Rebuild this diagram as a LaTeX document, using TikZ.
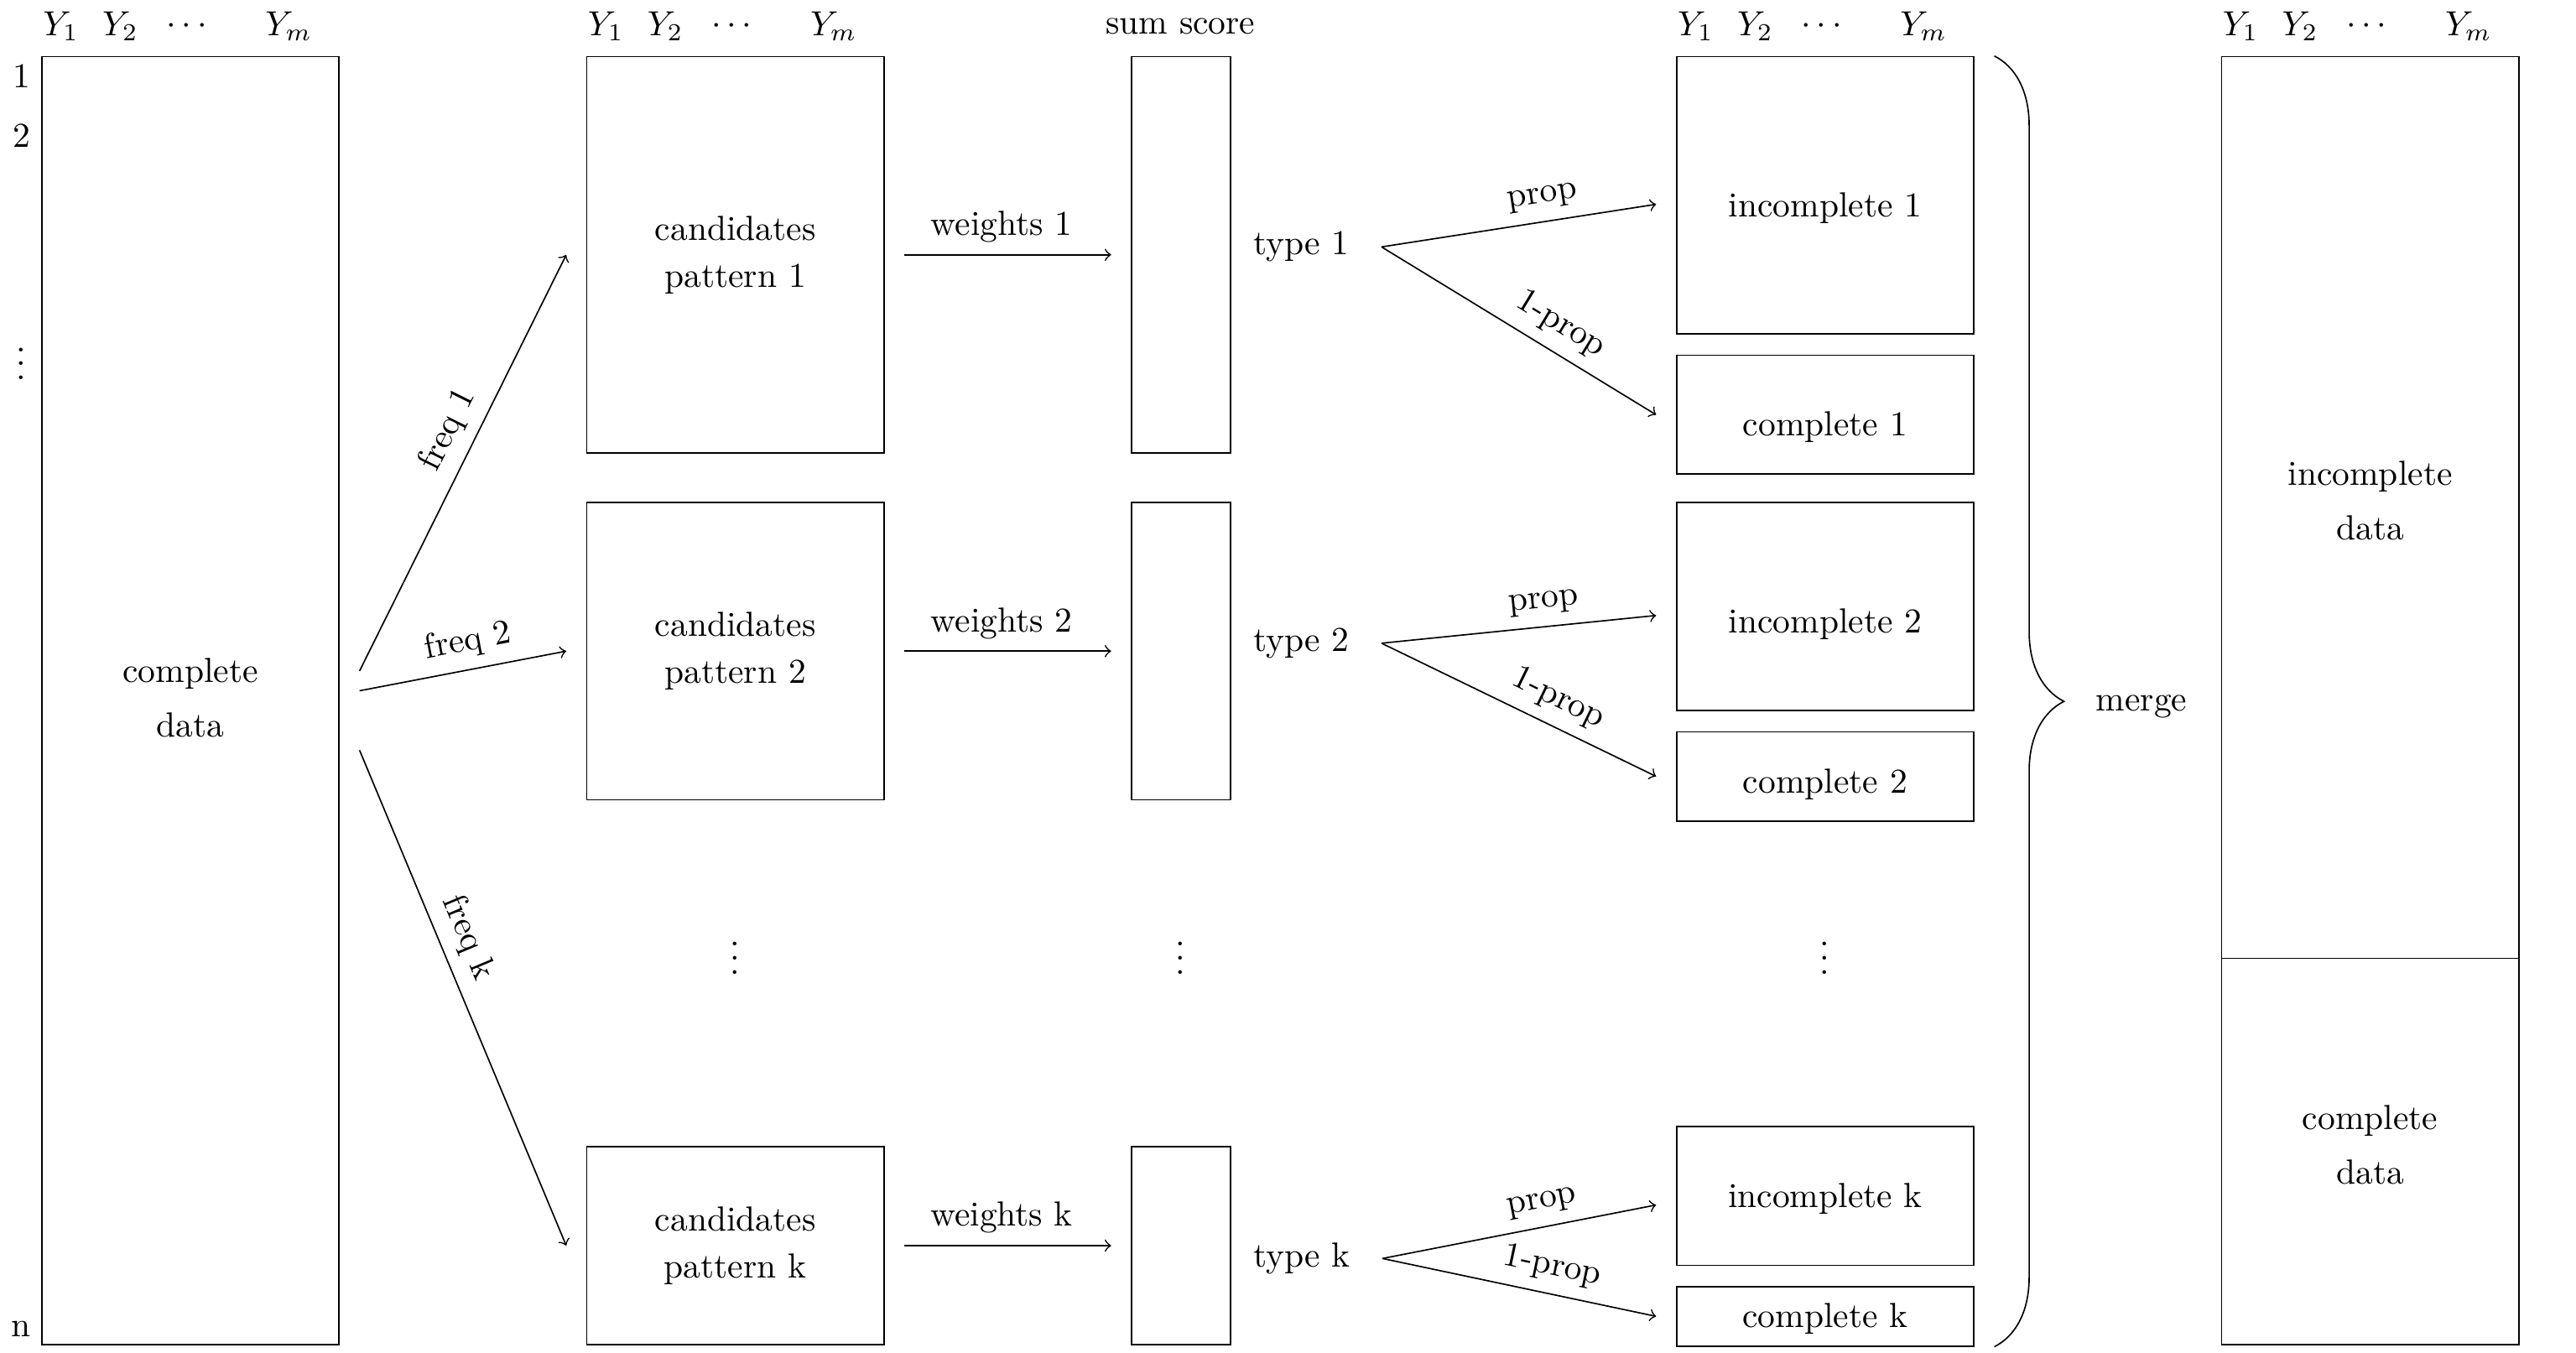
\documentclass[tikz,border=0pt]{standalone}
\usepackage{amsmath}
\usepackage{tikz}
\usetikzlibrary{positioning,decorations.pathreplacing}
% column heads above a block whose left edge is at x=#2
\newcommand\VarHeads[2]{%
  \node (#1y1) at (#2+0.2,0.3) {$Y_1$};
  \node (#1y2) at (#2+0.8,0.3) {$Y_2$};
  \node (#1dots) at (#2+1.5,0.3) {$\cdots$};
  \node (#1ym) at (#2+2.5,0.3) {$Y_m$};
}

\begin{document}
\begin{tikzpicture}[thin,box/.style={draw,rectangle,inner sep=0,anchor=north west,align=center}]
\useasboundingbox (-0.415,0.565) rectangle (25.585,-13.091);
\node[box,minimum width=3cm,minimum height=13cm] (data) at (0,0) {};
\node[align=center] (ldata) at ([yshift=0.3mm]data.center) {complete\\[1.3mm]data};
\VarHeads{d}{0}
\node (r1) at (-0.2,-0.2) {1};
\node (r2) at (-0.2,-0.8) {2};
\node (rdots) at (-0.2,-3.0) {$\vdots$};
\node (rn) at (-0.2,-12.85) {n};
\VarHeads{c}{5.5}
\node (sum) at (11.5,0.3) {sum score};
\VarHeads{i}{16.5}
\VarHeads{m}{22}
\foreach \i/\top/\h/\hi/\hc/\itop/\dy/\p/\di/\dc/\ty in {1/0/4/2.8/1.2/0/0.3/0.55/-1.3/-1.2/0.8,2/-4.5/3/2.1/0.9/-4.5/0.1/0.55/-1.8/-0.8/0.8,k/-11/2/1.4/0.6/-10.8/-0.5/0.4/-0.3/-0.2/-1.3} {
  \node[box,minimum width=3cm,minimum height=\h cm] (c\i) at (5.5,\top) {candidates\\[0.5mm]pattern \i};
  \node[box,minimum width=1cm,minimum height=\h cm] (s\i) at (11,\top) {};
  \node[right=1mm of s\i,yshift=\ty mm] (t\i) {type \i};
  \node[box,minimum width=3cm,minimum height=\hi cm] (i\i) at (16.5,\itop) {};
  \node[box,minimum width=3cm,minimum height=\hc cm,below=2mm of i\i] (o\i) {};
  \node (li\i) at ([yshift=\di mm]i\i.center) {incomplete \i};
  \node (lo\i) at ([yshift=\dc mm]o\i.center) {complete \i};
  \draw[->] ([xshift=2mm,yshift=\dy cm]data.east) -- node[above,sloped,pos=\p] (f\i) {freq \i} ([xshift=-2mm]c\i.west);
  \draw[->] ([xshift=2mm]c\i.east) -- node[above,pos=0.47] (w\i) {weights \i} ([xshift=-2mm]s\i.west);
  \draw[->] ([xshift=2mm]t\i.east) -- node[above,sloped,pos=0.6] (p\i) {prop} ([xshift=-2mm,yshift=-0.9mm]i\i.west);
  \draw[->] ([xshift=2mm]t\i.east) -- node[above,sloped,pos=0.6] (q\i) {1-prop} ([xshift=-2mm]o\i.west);
}
\node (cvdots) at (7,-9.0) {$\vdots$};
\node (svdots) at (11.5,-9.0) {$\vdots$};
\node (ivdots) at (18,-9.0) {$\vdots$};
\draw[decorate,decoration={brace,amplitude=20pt}] ([xshift=2mm]i1.north east) -- ([xshift=2mm]ok.south east);
\node (merge) at (21.2,-6.57) {merge};
\node[box,minimum width=3cm,minimum height=9.1cm] (inc) at (22,0) {};
\node[box,minimum width=3cm,minimum height=3.9cm] (com) at (22,-9.1) {};
\node[align=center] (linc) at ([yshift=0.7mm]inc.center) {incomplete\\[1.3mm]data};
\node[align=center] (lcom) at ([yshift=0.7mm]com.center) {complete\\[1.3mm]data};
\end{tikzpicture}
\end{document}
